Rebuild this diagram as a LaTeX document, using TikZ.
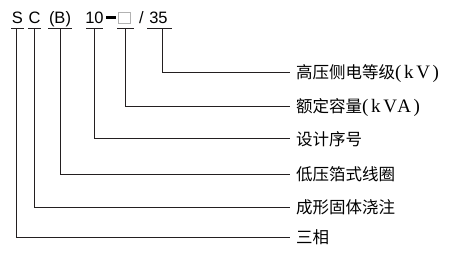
\documentclass[tikz,border=0pt]{standalone}
\usepackage{fontspec}
\setmainfont{Liberation Serif}
\newfontfamily\cjkfont{Noto Sans CJK SC}
\newfontfamily\arialfont{Liberation Sans}
\usetikzlibrary{calc}
\definecolor{linec}{HTML}{231F20}
\newcommand{\cj}[1]{{\cjkfont\fontsize{16.5}{16.5}\selectfont #1}}
\newcommand{\lt}[1]{{\fontsize{19}{19}\selectfont\addfontfeature{LetterSpace=14}#1}}
\begin{document}
\begin{tikzpicture}[x=1pt,y=-1pt,
  lbl/.style={anchor=base west, inner sep=0pt},
  code/.style={anchor=base, inner sep=0pt, font=\arialfont\fontsize{16.5}{16.5}\selectfont},
  conn/.style={draw=linec, line width=0.8pt},
]
\useasboundingbox[fill=white] (0,0) rectangle (458,262);
% top code
\node[code] (s) at (17.5,23.5) {S};
\node[code] (c) at (34.5,23.5) {C};
\node[code] (b) at (60,23.5) {(B)};
\node[code] (ten) at (94.5,23.5) {10};
\node[fill=black, minimum width=10pt, minimum height=2.8pt, inner sep=0pt] (dash) at (110.5,17.8) {};
\node[draw=gray!60, line width=0.8pt, minimum width=11.5pt, minimum height=11.5pt, inner sep=0pt] (bx) at (124.5,17.8) {};
\node[code] (sl) at (141.5,23.5) {/};
\node[code] (tf) at (158.5,23.5) {35};
% underline points
\coordinate (us) at (16.7,28.5);
\coordinate (uc) at (34.3,28.5);
\coordinate (ub) at (60.3,28.5);
\coordinate (ut) at (94.3,28.5);
\coordinate (ux) at (125.3,28.5);
\coordinate (uf) at (162.3,28.5);
\draw[conn] (11,28.5) -- (24,28.5);
\draw[conn] (28,28.5) -- (41,28.5);
\draw[conn] (48,28.5) -- (72,28.5);
\draw[conn] (86,28.5) -- (103,28.5);
\draw[conn] (117,28.5) -- (134,28.5);
\draw[conn] (147,28.5) -- (172,28.5);
% labels
\node[lbl] (l1) at (296,78.8) {\cj{高压侧电等级}\lt{(kV)}};
\node[lbl] (l2) at (296,112.8) {\cj{额定容量}\lt{(kVA)}};
\node[lbl] (l3) at (296,145.3) {\cj{设计序号}};
\node[lbl] (l4) at (296,180.8) {\cj{低压箔式线圈}};
\node[lbl] (l5) at (296,213.5) {\cj{成形固体浇注}};
\node[lbl] (l6) at (296,243.8) {\cj{三相}};
% connectors
\draw[conn] (uf) |- ($(l1.base west)+(-6,-6.5)$);
\draw[conn] (ux) |- ($(l2.base west)+(-6,-6.5)$);
\draw[conn] (ut) |- ($(l3.base west)+(-6,-6.5)$);
\draw[conn] (ub) |- ($(l4.base west)+(-6,-6.5)$);
\draw[conn] (uc) |- ($(l5.base west)+(-6,-6.5)$);
\draw[conn] (us) |- ($(l6.base west)+(-6,-6.5)$);
\end{tikzpicture}
\end{document}
